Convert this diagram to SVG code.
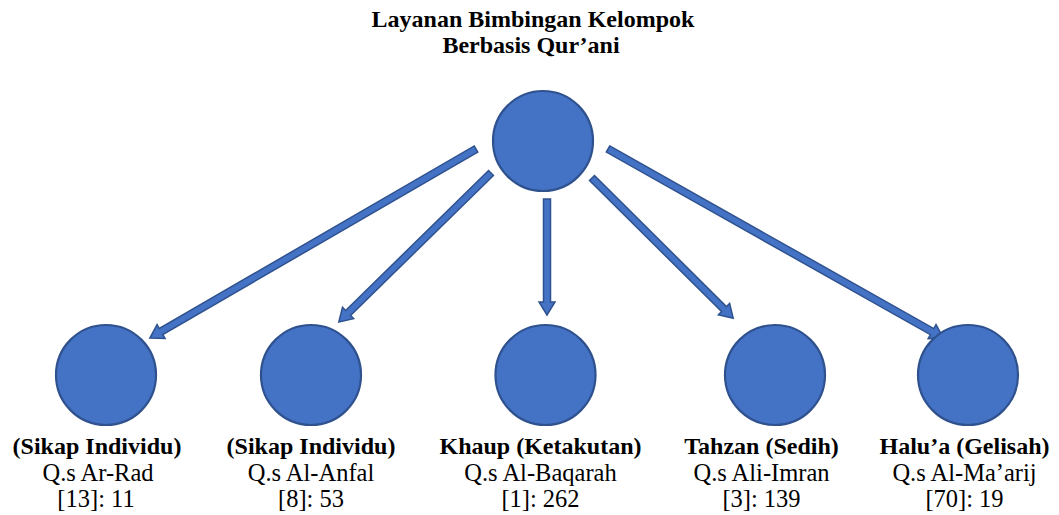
<svg xmlns="http://www.w3.org/2000/svg" width="1059" height="515" viewBox="0 0 1059 515">
<style>
.node{fill:#4472C4;stroke:#2F528F;stroke-width:2.2}
.arr{fill:#4472C4;stroke:#2F528F;stroke-width:1.5;stroke-linejoin:miter}
text{font-family:'Liberation Serif','DejaVu Serif',serif;font-size:24.5px;fill:#000;text-anchor:middle}
.b{font-weight:bold;font-size:24px}
</style>
<rect width="1059" height="515" fill="#fff"/>
<g id="title">
<text class="b" x="533" y="27">Layanan Bimbingan Kelompok</text>
<text class="b" x="531" y="53">Berbasis Qur’ani</text>
</g>
<g id="root"><circle class="node" cx="543" cy="141" r="50"/></g>
<g id="connectors">
<path class="arr" transform="translate(476,149) rotate(149.9)" d="M0,-3.5 H364 V-8 L377,0 L364,8 V3.5 H0 Z"/>
<path class="arr" transform="translate(491,173) rotate(135.6)" d="M0,-3.5 H200 V-8 L213,0 L200,8 V3.5 H0 Z"/>
<path class="arr" transform="translate(547,199) rotate(90)" d="M0,-3.5 H103 V-8 L116,0 L103,8 V3.5 H0 Z"/>
<path class="arr" transform="translate(592,178) rotate(44.8)" d="M0,-3.5 H186 V-8 L199,0 L186,8 V3.5 H0 Z"/>
<path class="arr" transform="translate(608,149) rotate(29.4)" d="M0,-3.5 H372 V-8 L385,0 L372,8 V3.5 H0 Z"/>
</g>
<g id="n1">
<circle class="node" cx="106" cy="375" r="50"/>
<text class="b" x="97" y="454">(Sikap Individu)</text>
<text x="98" y="481">Q.s Ar-Rad</text>
<text x="96" y="507">[13]: 11</text>
</g>
<g id="n2">
<circle class="node" cx="311" cy="375" r="50"/>
<text class="b" x="311" y="454">(Sikap Individu)</text>
<text x="311" y="481">Q.s Al-Anfal</text>
<text x="311" y="507">[8]: 53</text>
</g>
<g id="n3">
<circle class="node" cx="545.5" cy="375" r="50"/>
<text class="b" x="540.5" y="454">Khaup (Ketakutan)</text>
<text x="540.5" y="481">Q.s Al-Baqarah</text>
<text x="540.5" y="507">[1]: 262</text>
</g>
<g id="n4">
<circle class="node" cx="775" cy="375" r="50"/>
<text class="b" x="761.5" y="454">Tahzan (Sedih)</text>
<text x="761.5" y="481">Q.s Ali-Imran</text>
<text x="761.5" y="507">[3]: 139</text>
</g>
<g id="n5">
<circle class="node" cx="968" cy="375" r="50"/>
<text class="b" x="964.5" y="454">Halu’a (Gelisah)</text>
<text x="964.5" y="481">Q.s Al-Ma’arij</text>
<text x="964.5" y="507">[70]: 19</text>
</g>
</svg>
